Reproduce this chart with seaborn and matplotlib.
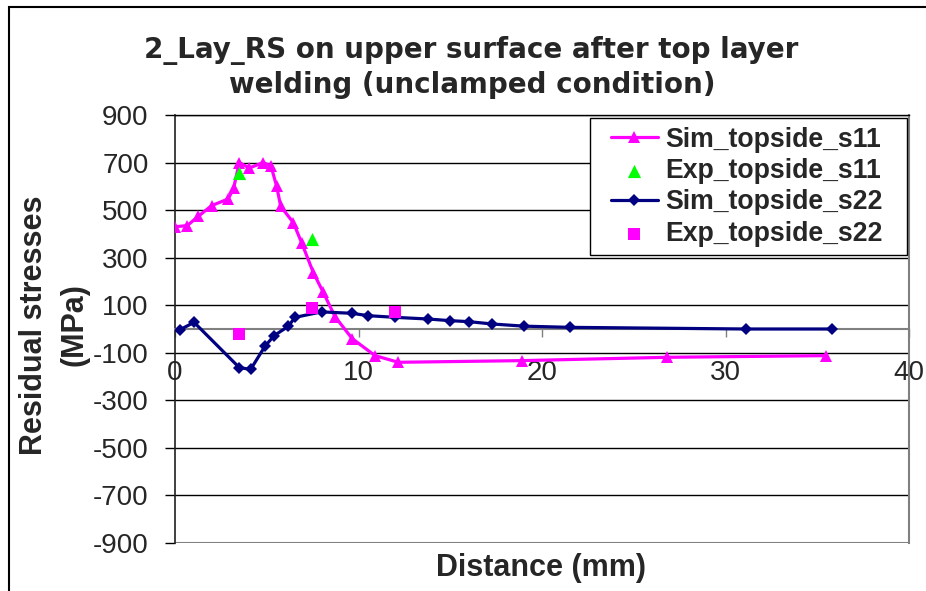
import matplotlib
matplotlib.use("Agg")
import matplotlib.pyplot as plt
import seaborn as sns
from matplotlib.patches import Rectangle
from matplotlib.legend_handler import HandlerLine2D, HandlerPathCollection
from matplotlib.lines import Line2D
from matplotlib.collections import PathCollection

# ---- data ----
sim_s11_x = [0, 0.67, 1.27, 2.0, 2.9, 3.2, 3.5, 4.05, 4.8, 5.23, 5.54, 5.76, 6.45,
             6.9, 7.54, 8.08, 8.72, 9.65, 10.9, 12.17, 18.9, 26.8, 35.5]
sim_s11_y = [430, 435, 474, 519, 547, 593, 700, 677, 700, 686, 600, 516, 447,
             363, 237, 154, 52, -40, -112, -140, -133, -119, -112]

exp_s11_x = [3.5, 7.45]
exp_s11_y = [656, 377]

sim_s22_x = [0.27, 1.04, 3.5, 4.12, 4.9, 5.4, 6.17, 6.54, 7.99, 9.63, 10.54,
             12.0, 13.8, 15.0, 16.0, 17.3, 19.0, 21.5, 31.1, 35.8]
sim_s22_y = [-3, 28, -162, -170, -73, -28, 11, 49, 72, 66, 56,
             49, 42, 35, 31, 21, 12, 7, 0, 0]

exp_s22_x = [3.5, 7.45, 12.0]
exp_s22_y = [-21, 87, 70]

x_ticks = [0, 10, 20, 30, 40]
y_ticks = [900, 700, 500, 300, 100, -100, -300, -500, -700, -900]

title_lines = ["2_Lay_RS on upper surface after top layer",
               "welding (unclamped condition)"]

sns.set_style("white")
plt.rcParams["font.family"] = ["Liberation Sans", "DejaVu Sans"]

W, H = 926, 591
fig = plt.figure(figsize=(W / 100, H / 100), dpi=100)
L, R, T, B = 175, 909, 115, 543
ax = fig.add_axes([L / W, 1 - B / H, (R - L) / W, (B - T) / H])

MAG = "#FF00FF"
NAVY = "#000080"
GRN = "#00FF00"

sns.lineplot(x=sim_s11_x, y=sim_s11_y, ax=ax, color=MAG, lw=2.3, marker="^",
             markersize=9, markeredgewidth=0, sort=False, estimator=None,
             label="Sim_topside_s11", zorder=3)
sns.scatterplot(x=exp_s11_x, y=exp_s11_y, ax=ax, color=GRN, marker="^", s=90,
                linewidth=0, label="Exp_topside_s11", zorder=5)
sns.lineplot(x=sim_s22_x, y=sim_s22_y, ax=ax, color=NAVY, lw=2.3, marker="D",
             markersize=6.5, markeredgewidth=0, sort=False, estimator=None,
             label="Sim_topside_s22", zorder=4)
sns.scatterplot(x=exp_s22_x, y=exp_s22_y, ax=ax, color=MAG, marker="s", s=75,
                linewidth=0, label="Exp_topside_s22", zorder=6)

ax.set_xlim(0, 40)
ax.set_ylim(-900, 900)
ax.set_xticks(x_ticks)
ax.set_yticks(y_ticks)
ax.set_xticklabels([str(v) for v in x_ticks])
ax.set_yticklabels([str(v) for v in y_ticks])

ax.yaxis.grid(True, color="black", lw=1.0)
ax.xaxis.grid(False)
ax.set_axisbelow(True)
ax.axhline(-900, color="#808080", lw=1.5, zorder=2)

ax.spines["bottom"].set_position(("data", 0))
ax.spines["bottom"].set_color("#808080")
ax.spines["bottom"].set_linewidth(1.5)
ax.spines["left"].set_color("#202020")
ax.spines["left"].set_linewidth(1.2)
ax.spines["right"].set_color("#808080")
ax.spines["right"].set_linewidth(1.5)
ax.spines["top"].set_color("black")
ax.spines["top"].set_linewidth(1.0)

ax.tick_params(axis="y", direction="out", length=7, width=1, color="black",
               labelsize=20, pad=12, left=True)
ax.tick_params(axis="x", direction="out", length=6, width=1, color="#808080",
               labelsize=20, pad=16, bottom=True)

ax.set_xlabel("Distance (mm)", fontsize=22, fontweight="bold")
ax.xaxis.label.set_va("center")
ax.xaxis.set_label_coords((541 - L) / (R - L), (B - 568) / (B - T))
ax.set_ylabel("Residual stresses\n(MPa)", fontsize=22, fontweight="bold",
              linespacing=1.45)
ax.yaxis.label.set_va("center")
ax.yaxis.set_label_coords((54 - L) / (R - L), (B - 325) / (B - T))

title_font = ["DejaVu Sans"]
fig.text(471 / W, 1 - 58 / H, title_lines[0], ha="center", va="baseline",
         fontsize=20, fontweight="bold", family=title_font)
fig.text(472 / W, 1 - 93 / H, title_lines[1], ha="center", va="baseline",
         fontsize=20, fontweight="bold", family=title_font)

leg_fs = 19.2
xpad = 0.45
handler_map = {Line2D: HandlerLine2D(xpad=xpad),
               PathCollection: HandlerPathCollection(xpad=xpad)}
leg = ax.legend(loc="upper left",
                bbox_to_anchor=((590 - L) / (R - L), 0.3,
                                (907 - 590) / (R - L), (B - 118) / (B - T) - 0.3),
                mode="expand", fancybox=False, edgecolor="black", framealpha=1,
                prop={"size": leg_fs, "weight": "bold"}, borderpad=0.32,
                labelspacing=0.2, handlelength=2.24, handletextpad=0.27,
                borderaxespad=0.0, handler_map=handler_map)
leg.get_frame().set_linewidth(1.0)

fig.patches.append(Rectangle((9 / W, -0.2), 1.5, 1.2 - 7 / H,
                             transform=fig.transFigure, fill=False,
                             edgecolor="black", lw=1.5))

fig.savefig("out.png", dpi=100)
